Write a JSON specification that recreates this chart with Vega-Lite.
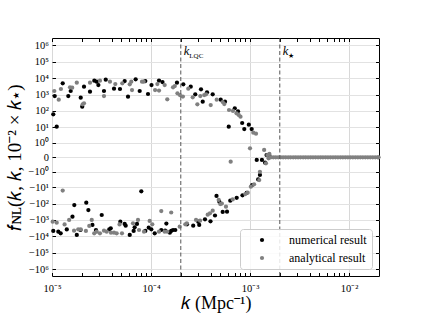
{
  "$schema": "https://vega.github.io/schema/vega-lite/v6.json",
  "width": 327,
  "height": 238,
  "autosize": "none",
  "padding": {"left": 52, "top": 38, "right": 42, "bottom": 40},
  "background": "white",
  "config": {
    "view": {"stroke": "black", "strokeWidth": 1},
    "font": "Liberation Serif",
    "axis": {"labelFont": "Liberation Serif", "titleFont": "Liberation Serif", "labelColor": "black", "titleColor": "black", "titleFontWeight": "normal", "tickColor": "black", "domain": false}
  },
  "datasets": {
    "pts": [
      {"k": 1.03e-5, "f": 63, "series": "numerical result"},
      {"k": 1.116e-5, "f": 10.9, "series": "numerical result"},
      {"k": 1.065e-5, "f": 822, "series": "numerical result"},
      {"k": 1.283e-5, "f": 4890, "series": "numerical result"},
      {"k": 1.461e-5, "f": 822, "series": "numerical result"},
      {"k": 1.545e-5, "f": 1660, "series": "numerical result"},
      {"k": 1.95e-5, "f": 648, "series": "numerical result"},
      {"k": 2.02e-5, "f": 183, "series": "numerical result"},
      {"k": 2.105e-5, "f": 3030, "series": "numerical result"},
      {"k": 2.42e-5, "f": 1500, "series": "numerical result"},
      {"k": 2.675e-5, "f": 7050, "series": "numerical result"},
      {"k": 2.83e-5, "f": 6120, "series": "numerical result"},
      {"k": 2.94e-5, "f": 3850, "series": "numerical result"},
      {"k": 3.35e-5, "f": 1660, "series": "numerical result"},
      {"k": 3.49e-5, "f": 8110, "series": "numerical result"},
      {"k": 4.23e-5, "f": 2290, "series": "numerical result"},
      {"k": 4.86e-5, "f": 2200, "series": "numerical result"},
      {"k": 5.42e-5, "f": 6760, "series": "numerical result"},
      {"k": 5.86e-5, "f": 745, "series": "numerical result"},
      {"k": 7.0e-5, "f": 8590, "series": "numerical result"},
      {"k": 7.69e-5, "f": 1660, "series": "numerical result"},
      {"k": 8.76e-5, "f": 6760, "series": "numerical result"},
      {"k": 9.33e-5, "f": 1090, "series": "numerical result"},
      {"k": 1.012e-4, "f": 3850, "series": "numerical result"},
      {"k": 1.205e-4, "f": 7250, "series": "numerical result"},
      {"k": 1.306e-4, "f": 5870, "series": "numerical result"},
      {"k": 1.83e-4, "f": 5320, "series": "numerical result"},
      {"k": 2.12e-4, "f": 4250, "series": "numerical result"},
      {"k": 2.52e-4, "f": 3030, "series": "numerical result"},
      {"k": 2.8e-4, "f": 1040, "series": "numerical result"},
      {"k": 3.2e-4, "f": 2110, "series": "numerical result"},
      {"k": 3.33e-4, "f": 369, "series": "numerical result"},
      {"k": 3.68e-4, "f": 1380, "series": "numerical result"},
      {"k": 4.2e-4, "f": 1040, "series": "numerical result"},
      {"k": 5.06e-4, "f": 489, "series": "numerical result"},
      {"k": 5.59e-4, "f": 369, "series": "numerical result"},
      {"k": 6.1e-4, "f": 10.9, "series": "numerical result"},
      {"k": 7.02e-4, "f": 146, "series": "numerical result"},
      {"k": 7.57e-4, "f": 96, "series": "numerical result"},
      {"k": 8.34e-4, "f": 18.4, "series": "numerical result"},
      {"k": 8.76e-4, "f": 7.8, "series": "numerical result"},
      {"k": 9.73e-4, "f": 14.5, "series": "numerical result"},
      {"k": 1.04e-3, "f": 7.8, "series": "numerical result"},
      {"k": 1.17e-3, "f": -0.069, "series": "numerical result"},
      {"k": 1.32e-3, "f": -0.069, "series": "numerical result"},
      {"k": 1.42e-3, "f": -0.17, "series": "numerical result"},
      {"k": 1.47e-3, "f": 0.057, "series": "numerical result"},
      {"k": 1.57e-3, "f": 0.038, "series": "numerical result"},
      {"k": 1.03e-5, "f": -4690, "series": "numerical result"},
      {"k": 1.158e-5, "f": -5180, "series": "numerical result"},
      {"k": 1.224e-5, "f": -6480, "series": "numerical result"},
      {"k": 1.41e-5, "f": -3800, "series": "numerical result"},
      {"k": 1.61e-5, "f": -630, "series": "numerical result"},
      {"k": 1.68e-5, "f": -122, "series": "numerical result"},
      {"k": 1.78e-5, "f": -8220, "series": "numerical result"},
      {"k": 1.94e-5, "f": -4080, "series": "numerical result"},
      {"k": 2.22e-5, "f": -88, "series": "numerical result"},
      {"k": 2.33e-5, "f": -246, "series": "numerical result"},
      {"k": 2.56e-5, "f": -2020, "series": "numerical result"},
      {"k": 2.78e-5, "f": -4080, "series": "numerical result"},
      {"k": 3.18e-5, "f": -496, "series": "numerical result"},
      {"k": 3.79e-5, "f": -3700, "series": "numerical result"},
      {"k": 3.92e-5, "f": -3210, "series": "numerical result"},
      {"k": 4.9e-5, "f": -1270, "series": "numerical result"},
      {"k": 5.42e-5, "f": -1750, "series": "numerical result"},
      {"k": 5.55e-5, "f": -2230, "series": "numerical result"},
      {"k": 6.1e-5, "f": -8220, "series": "numerical result"},
      {"k": 6.68e-5, "f": -4690, "series": "numerical result"},
      {"k": 6.84e-5, "f": -2790, "series": "numerical result"},
      {"k": 7.22e-5, "f": -1750, "series": "numerical result"},
      {"k": 7.98e-5, "f": -17.6, "series": "numerical result"},
      {"k": 8.76e-5, "f": -4690, "series": "numerical result"},
      {"k": 9.48e-5, "f": -2950, "series": "numerical result"},
      {"k": 1.007e-4, "f": -3700, "series": "numerical result"},
      {"k": 1.09e-4, "f": -6480, "series": "numerical result"},
      {"k": 1.27e-4, "f": -4080, "series": "numerical result"},
      {"k": 1.39e-4, "f": -4500, "series": "numerical result"},
      {"k": 1.43e-4, "f": -1640, "series": "numerical result"},
      {"k": 1.55e-4, "f": -5960, "series": "numerical result"},
      {"k": 1.6e-4, "f": -4690, "series": "numerical result"},
      {"k": 1.67e-4, "f": -4080, "series": "numerical result"},
      {"k": 1.76e-4, "f": -4080, "series": "numerical result"},
      {"k": 2.31e-4, "f": -1830, "series": "numerical result"},
      {"k": 2.67e-4, "f": -2230, "series": "numerical result"},
      {"k": 3.0e-4, "f": -1270, "series": "numerical result"},
      {"k": 3.07e-4, "f": -2020, "series": "numerical result"},
      {"k": 3.51e-4, "f": -908, "series": "numerical result"},
      {"k": 3.99e-4, "f": -1200, "series": "numerical result"},
      {"k": 4.43e-4, "f": -532, "series": "numerical result"},
      {"k": 4.59e-4, "f": -34, "series": "numerical result"},
      {"k": 4.9e-4, "f": -76, "series": "numerical result"},
      {"k": 5.3e-4, "f": -325, "series": "numerical result"},
      {"k": 5.86e-4, "f": -312, "series": "numerical result"},
      {"k": 6.32e-4, "f": -66, "series": "numerical result"},
      {"k": 7.34e-4, "f": -44, "series": "numerical result"},
      {"k": 8.4e-4, "f": -31, "series": "numerical result"},
      {"k": 9.27e-4, "f": -22, "series": "numerical result"},
      {"k": 1.05e-3, "f": -7.2, "series": "numerical result"},
      {"k": 1.21e-3, "f": -3.2, "series": "numerical result"},
      {"k": 1.26e-3, "f": -1.65, "series": "numerical result"},
      {"k": 1.055e-5, "f": 1660, "series": "analytical result"},
      {"k": 1.17e-5, "f": 489, "series": "analytical result"},
      {"k": 1.23e-5, "f": 2200, "series": "analytical result"},
      {"k": 1.52e-5, "f": 2790, "series": "analytical result"},
      {"k": 1.6e-5, "f": 2640, "series": "analytical result"},
      {"k": 1.78e-5, "f": 5320, "series": "analytical result"},
      {"k": 2.04e-5, "f": 256, "series": "analytical result"},
      {"k": 2.105e-5, "f": 295, "series": "analytical result"},
      {"k": 2.42e-5, "f": 5320, "series": "analytical result"},
      {"k": 3.05e-5, "f": 7050, "series": "analytical result"},
      {"k": 3.35e-5, "f": 822, "series": "analytical result"},
      {"k": 3.85e-5, "f": 6120, "series": "analytical result"},
      {"k": 4.36e-5, "f": 4430, "series": "analytical result"},
      {"k": 5.13e-5, "f": 4890, "series": "analytical result"},
      {"k": 6.1e-5, "f": 4250, "series": "analytical result"},
      {"k": 6.32e-5, "f": 6120, "series": "analytical result"},
      {"k": 6.43e-5, "f": 1910, "series": "analytical result"},
      {"k": 8.11e-5, "f": 6120, "series": "analytical result"},
      {"k": 8.44e-5, "f": 6120, "series": "analytical result"},
      {"k": 1.1e-4, "f": 1910, "series": "analytical result"},
      {"k": 1.16e-4, "f": 4430, "series": "analytical result"},
      {"k": 1.205e-4, "f": 1780, "series": "analytical result"},
      {"k": 1.375e-4, "f": 3850, "series": "analytical result"},
      {"k": 1.46e-4, "f": 518, "series": "analytical result"},
      {"k": 1.67e-4, "f": 2790, "series": "analytical result"},
      {"k": 1.74e-4, "f": 3350, "series": "analytical result"},
      {"k": 1.85e-4, "f": 1200, "series": "analytical result"},
      {"k": 1.96e-4, "f": 946, "series": "analytical result"},
      {"k": 2.1e-4, "f": 766, "series": "analytical result"},
      {"k": 2.38e-4, "f": 2290, "series": "analytical result"},
      {"k": 2.64e-4, "f": 685, "series": "analytical result"},
      {"k": 2.94e-4, "f": 256, "series": "analytical result"},
      {"k": 3.15e-4, "f": 822, "series": "analytical result"},
      {"k": 3.45e-4, "f": 946, "series": "analytical result"},
      {"k": 3.6e-4, "f": 1040, "series": "analytical result"},
      {"k": 4.01e-4, "f": 232, "series": "analytical result"},
      {"k": 4.61e-4, "f": 489, "series": "analytical result"},
      {"k": 5.3e-4, "f": 354, "series": "analytical result"},
      {"k": 5.5e-4, "f": 267, "series": "analytical result"},
      {"k": 6.14e-4, "f": 115, "series": "analytical result"},
      {"k": 6.73e-4, "f": 100, "series": "analytical result"},
      {"k": 7.31e-4, "f": 72, "series": "analytical result"},
      {"k": 7.69e-4, "f": 57, "series": "analytical result"},
      {"k": 8.02e-4, "f": 45, "series": "analytical result"},
      {"k": 1.0e-3, "f": 0.38, "series": "analytical result"},
      {"k": 1.08e-3, "f": 4.6, "series": "analytical result"},
      {"k": 1.15e-3, "f": 4.0, "series": "analytical result"},
      {"k": 1.39e-3, "f": 0.27, "series": "analytical result"},
      {"k": 1.5e-3, "f": 0.057, "series": "analytical result"},
      {"k": 1.57e-3, "f": 0.089, "series": "analytical result"},
      {"k": 6.38e-4, "f": -0.128, "series": "analytical result"},
      {"k": 1.45e-3, "f": -0.199, "series": "analytical result"},
      {"k": 1.54e-3, "f": -0.022, "series": "analytical result"},
      {"k": 1.016e-5, "f": -1270, "series": "analytical result"},
      {"k": 1.116e-5, "f": -1460, "series": "analytical result"},
      {"k": 1.283e-5, "f": -16, "series": "analytical result"},
      {"k": 1.34e-5, "f": -1880, "series": "analytical result"},
      {"k": 1.49e-5, "f": -1000, "series": "analytical result"},
      {"k": 1.67e-5, "f": -4500, "series": "analytical result"},
      {"k": 1.84e-5, "f": -3700, "series": "analytical result"},
      {"k": 1.95e-5, "f": -3700, "series": "analytical result"},
      {"k": 2.2e-5, "f": -4690, "series": "analytical result"},
      {"k": 2.38e-5, "f": -2320, "series": "analytical result"},
      {"k": 2.52e-5, "f": -1000, "series": "analytical result"},
      {"k": 2.67e-5, "f": -6480, "series": "analytical result"},
      {"k": 2.83e-5, "f": -5180, "series": "analytical result"},
      {"k": 3.05e-5, "f": -6480, "series": "analytical result"},
      {"k": 3.35e-5, "f": -4500, "series": "analytical result"},
      {"k": 3.57e-5, "f": -5180, "series": "analytical result"},
      {"k": 3.94e-5, "f": -5960, "series": "analytical result"},
      {"k": 4.23e-5, "f": -5960, "series": "analytical result"},
      {"k": 4.5e-5, "f": -6480, "series": "analytical result"},
      {"k": 4.81e-5, "f": -1880, "series": "analytical result"},
      {"k": 5.09e-5, "f": -6480, "series": "analytical result"},
      {"k": 6.58e-5, "f": -1590, "series": "analytical result"},
      {"k": 7.39e-5, "f": -1000, "series": "analytical result"},
      {"k": 7.57e-5, "f": -4080, "series": "analytical result"},
      {"k": 8.5e-5, "f": -5180, "series": "analytical result"},
      {"k": 9.7e-5, "f": -1150, "series": "analytical result"},
      {"k": 1.03e-4, "f": -1830, "series": "analytical result"},
      {"k": 1.205e-4, "f": -5180, "series": "analytical result"},
      {"k": 1.27e-4, "f": -283, "series": "analytical result"},
      {"k": 1.375e-4, "f": -5180, "series": "analytical result"},
      {"k": 1.46e-4, "f": -5180, "series": "analytical result"},
      {"k": 1.6e-4, "f": -349, "series": "analytical result"},
      {"k": 1.95e-4, "f": -2560, "series": "analytical result"},
      {"k": 2.22e-4, "f": -1830, "series": "analytical result"},
      {"k": 2.3e-4, "f": -1590, "series": "analytical result"},
      {"k": 2.85e-4, "f": -1000, "series": "analytical result"},
      {"k": 3.13e-4, "f": -1100, "series": "analytical result"},
      {"k": 3.74e-4, "f": -475, "series": "analytical result"},
      {"k": 3.94e-4, "f": -391, "series": "analytical result"},
      {"k": 4.2e-4, "f": -271, "series": "analytical result"},
      {"k": 4.83e-4, "f": -60, "series": "analytical result"},
      {"k": 5.01e-4, "f": -106, "series": "analytical result"},
      {"k": 5.2e-4, "f": -100, "series": "analytical result"},
      {"k": 5.72e-4, "f": -155, "series": "analytical result"},
      {"k": 6.69e-4, "f": -56, "series": "analytical result"},
      {"k": 8.97e-4, "f": -26, "series": "analytical result"},
      {"k": 9.48e-4, "f": -21.5, "series": "analytical result"},
      {"k": 1.02e-3, "f": -9.2, "series": "analytical result"},
      {"k": 1.1e-3, "f": -6.5, "series": "analytical result"},
      {"k": 1.24e-3, "f": -3.5, "series": "analytical result"},
      {"k": 1.26e-3, "f": -1.0, "series": "analytical result"},
      {"k": 0.00162, "f": 0, "series": "analytical result"},
      {"k": 0.00172, "f": 0, "series": "analytical result"},
      {"k": 0.00182, "f": 0, "series": "analytical result"},
      {"k": 0.00193, "f": 0, "series": "analytical result"},
      {"k": 0.00204, "f": 0, "series": "analytical result"},
      {"k": 0.00216, "f": 0, "series": "analytical result"},
      {"k": 0.00229, "f": 0, "series": "analytical result"},
      {"k": 0.00243, "f": 0, "series": "analytical result"},
      {"k": 0.00257, "f": 0, "series": "analytical result"},
      {"k": 0.00273, "f": 0, "series": "analytical result"},
      {"k": 0.00289, "f": 0, "series": "analytical result"},
      {"k": 0.00306, "f": 0, "series": "analytical result"},
      {"k": 0.00324, "f": 0, "series": "analytical result"},
      {"k": 0.00344, "f": 0, "series": "analytical result"},
      {"k": 0.00364, "f": 0, "series": "analytical result"},
      {"k": 0.00386, "f": 0, "series": "analytical result"},
      {"k": 0.00409, "f": 0, "series": "analytical result"},
      {"k": 0.00433, "f": 0, "series": "analytical result"},
      {"k": 0.00459, "f": 0, "series": "analytical result"},
      {"k": 0.00487, "f": 0, "series": "analytical result"},
      {"k": 0.00516, "f": 0, "series": "analytical result"},
      {"k": 0.00546, "f": 0, "series": "analytical result"},
      {"k": 0.00579, "f": 0, "series": "analytical result"},
      {"k": 0.00613, "f": 0, "series": "analytical result"},
      {"k": 0.0065, "f": 0, "series": "analytical result"},
      {"k": 0.00689, "f": 0, "series": "analytical result"},
      {"k": 0.0073, "f": 0, "series": "analytical result"},
      {"k": 0.00773, "f": 0, "series": "analytical result"},
      {"k": 0.0082, "f": 0, "series": "analytical result"},
      {"k": 0.00868, "f": 0, "series": "analytical result"},
      {"k": 0.0092, "f": 0, "series": "analytical result"},
      {"k": 0.00975, "f": 0, "series": "analytical result"},
      {"k": 0.01033, "f": 0, "series": "analytical result"},
      {"k": 0.01095, "f": 0, "series": "analytical result"},
      {"k": 0.0116, "f": 0, "series": "analytical result"},
      {"k": 0.01229, "f": 0, "series": "analytical result"},
      {"k": 0.01302, "f": 0, "series": "analytical result"},
      {"k": 0.0138, "f": 0, "series": "analytical result"},
      {"k": 0.01462, "f": 0, "series": "analytical result"},
      {"k": 0.01549, "f": 0, "series": "analytical result"},
      {"k": 0.01641, "f": 0, "series": "analytical result"},
      {"k": 0.01739, "f": 0, "series": "analytical result"},
      {"k": 0.01843, "f": 0, "series": "analytical result"},
      {"k": 0.01953, "f": 0, "series": "analytical result"},
      {"k": 0.0199, "f": 0, "series": "analytical result"}
    ],
    "marks": [
      {"k": 2.0e-4, "f": 260000, "main": "k", "sub": "LQC"},
      {"k": 2.0e-3, "f": 260000, "main": "k", "sub": "★"}
    ]
  },
  "layer": [
    {
      "data": {"name": "pts"},
      "mark": {"type": "point", "filled": true, "opacity": 1, "size": 18, "shape": "circle"},
      "encoding": {
        "x": {
          "field": "k", "type": "quantitative",
          "scale": {"type": "log", "domain": [1e-5, 0.0201], "nice": false},
          "axis": {
            "orient": "bottom",
            "values": [1e-5, 2e-5, 3e-5, 4e-5, 5e-5, 6e-5, 7e-5, 8e-5, 9e-5, 1e-4, 2e-4, 3e-4, 4e-4, 5e-4, 6e-4, 7e-4, 8e-4, 9e-4, 1e-3, 2e-3, 3e-3, 4e-3, 5e-3, 6e-3, 7e-3, 8e-3, 9e-3, 1e-2],
            "labelExpr": "abs(log(datum.value)/LN10 - round(log(datum.value)/LN10)) < 0.001 ? '10⁻' + substring('⁰¹²³⁴⁵⁶⁷⁸⁹', -round(log(datum.value)/LN10), -round(log(datum.value)/LN10) + 1) : ''",
            "grid": true,
            "gridColor": "#d8d8d8",
            "gridOpacity": {"condition": {"test": "abs(log(datum.value)/LN10 - round(log(datum.value)/LN10)) < 0.001", "value": 1}, "value": 0},
            "tickSize": -3.5,
            "labelPadding": 11,
            "labelFontSize": 10.5,
            "labelFlush": false,
            "title": "𝑘 (Mpc⁻¹)",
            "titleFontSize": 18,
            "titlePadding": 0
          }
        },
        "y": {
          "field": "f", "type": "quantitative",
          "scale": {"type": "symlog", "constant": 0.15, "domain": [-2610000, 2840000], "nice": false, "zero": false},
          "axis": {
            "orient": "left",
            "values": [-1000000, -100000, -10000, -1000, -100, -10, -1, 0, 1, 10, 100, 1000, 10000, 100000, 1000000],
            "labelExpr": "datum.value == 0 ? '0' : (datum.value < 0 ? '−' : '') + '10' + substring('⁰¹²³⁴⁵⁶⁷⁸⁹', round(log(abs(datum.value))/LN10), round(log(abs(datum.value))/LN10) + 1)",
            "grid": true,
            "gridColor": "#e2e2e2",
            "tickSize": -3.5,
            "labelPadding": 7,
            "labelFontSize": 10.5,
            "title": "𝑓ɴʟ(𝑘, 𝑘, 10⁻² × 𝑘⋆)",
            "titleFontSize": 19,
            "titlePadding": 4
          }
        },
        "color": {
          "field": "series", "type": "nominal",
          "scale": {"domain": ["numerical result", "analytical result"], "range": ["#000000", "#808080"]},
          "legend": {
            "title": null, "orient": "bottom-right", "offset": 7,
            "fillColor": "rgba(255,255,255,0.85)", "strokeColor": "#cccccc", "cornerRadius": 3,
            "padding": 5, "symbolOffset": 11, "labelOffset": 21, "rowPadding": 6,
            "symbolType": "circle", "symbolSize": 18, "labelFont": "Liberation Serif", "labelFontSize": 12, "labelColor": "black"
          }
        }
      }
    },
    {
      "data": {"name": "marks"},
      "mark": {"type": "rule", "color": "#555555", "strokeDash": [4, 2.5], "strokeWidth": 1},
      "encoding": {
        "x": {
          "field": "k", "type": "quantitative",
          "scale": {"type": "log", "domain": [1e-5, 0.0201], "nice": false},
          "axis": {
            "orient": "top",
            "values": [1e-5, 2e-5, 3e-5, 4e-5, 5e-5, 6e-5, 7e-5, 8e-5, 9e-5, 1e-4, 2e-4, 3e-4, 4e-4, 5e-4, 6e-4, 7e-4, 8e-4, 9e-4, 1e-3, 2e-3, 3e-3, 4e-3, 5e-3, 6e-3, 7e-3, 8e-3, 9e-3, 1e-2],
            "labels": false, "grid": false, "tickSize": -3.5, "title": null
          }
        }
      }
    },
    {
      "data": {"name": "marks"},
      "mark": {"type": "text", "align": "left", "baseline": "alphabetic", "dx": 3, "fontSize": 12.5, "fontStyle": "italic", "font": "Liberation Serif", "color": "black"},
      "encoding": {
        "x": {"field": "k", "type": "quantitative", "scale": {"type": "log", "domain": [1e-5, 0.0201], "nice": false}, "axis": null},
        "y": {
          "field": "f", "type": "quantitative",
          "scale": {"type": "symlog", "constant": 0.15, "domain": [-2610000, 2840000], "nice": false, "zero": false},
          "axis": {
            "orient": "right",
            "values": [-1000000, -100000, -10000, -1000, -100, -10, -1, 0, 1, 10, 100, 1000, 10000, 100000, 1000000],
            "labels": false, "grid": false, "tickSize": -3.5, "title": null
          }
        },
        "text": {"field": "main"}
      }
    },
    {
      "data": {"name": "marks"},
      "mark": {"type": "text", "align": "left", "baseline": "alphabetic", "dx": 8.5, "dy": 3, "fontSize": 7, "font": "Liberation Serif", "color": "black"},
      "encoding": {
        "x": {"field": "k", "type": "quantitative", "scale": {"type": "log", "domain": [1e-5, 0.0201], "nice": false}, "axis": null},
        "y": {"field": "f", "type": "quantitative", "scale": {"type": "symlog", "constant": 0.15, "domain": [-2610000, 2840000], "nice": false, "zero": false}, "axis": null},
        "text": {"field": "sub"}
      }
    }
  ],
  "resolve": {"axis": {"x": "independent", "y": "independent"}}
}
